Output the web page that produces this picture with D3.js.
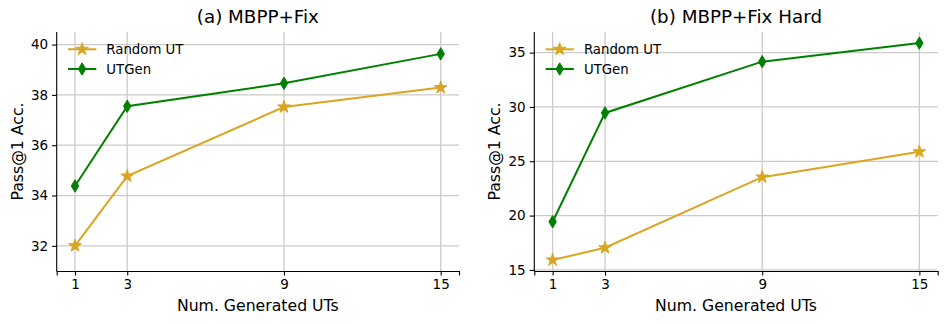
<!DOCTYPE html>
<head>
    <meta charset="utf-8">
    <title>Pass@1 vs generated UTs</title>
    <script src="https://d3js.org/d3.v7.min.js"></script>
    <style>
        body { margin: 0; background: #fff; }
        text { font-family: "DejaVu Sans", sans-serif; fill: #000; }
    </style>
</head>
<body>
    <div id="container"></div>
    <script>
        //----------------------------DATA------------------------------//
        const numUTs = [1, 3, 9, 15];
        const randomFix = [32.0, 34.77, 37.52, 38.29];
        const utgenFix = [34.38, 37.55, 38.46, 39.63];
        const randomHard = [15.91, 17.04, 23.54, 25.87];
        const utgenHard = [19.43, 29.45, 34.17, 35.88];
        const yTicksFix = [32, 34, 36, 38, 40];
        const yTicksHard = [15, 20, 25, 30, 35];
        const seriesNames = ["Random UT", "UTGen"];

        const colors = { "Random UT": "#DAA520", "UTGen": "#008000" };

        const panels = [
            { title: "(a) MBPP+Fix", left: 56.7, right: 459, yDomain: [31, 40.5], yTicks: yTicksFix,
              series: [randomFix, utgenFix] },
            { title: "(b) MBPP+Fix Hard", left: 534.3, right: 937.7, yDomain: [14.9, 36.9], yTicks: yTicksHard,
              series: [randomHard, utgenHard] }
        ];
        const plotTop = 32, plotBottom = 271;

        const svg = d3.select("#container").append("svg")
            .attr("width", 947).attr("height", 324);

        const starPath = d3.symbol().type(d3.symbolStar).size(50)();
        const diamondPath = "M0,-6.2L3.7,0L0,6.2L-3.7,0Z";

        function marker(sel, name) {
            sel.append("path")
                .attr("d", name === "UTGen" ? diamondPath : starPath)
                .attr("fill", colors[name])
                .attr("stroke", colors[name])
                .attr("stroke-width", 1);
        }

        panels.forEach(function (p) {
            const xScale = d3.scaleLinear().domain([0.3, 15.7]).range([p.left, p.right]);
            const yScale = d3.scaleLinear().domain(p.yDomain).range([plotBottom, plotTop]);
            const g = svg.append("g");

            //--------------------------GRID----------------------------//
            g.append("g").selectAll("line").data(numUTs).enter().append("line")
                .attr("x1", d => xScale(d)).attr("x2", d => xScale(d))
                .attr("y1", plotTop).attr("y2", plotBottom)
                .attr("stroke", "#cbcbcb").attr("stroke-width", 1.3);
            g.append("g").selectAll("line").data(p.yTicks).enter().append("line")
                .attr("x1", p.left).attr("x2", p.right)
                .attr("y1", d => yScale(d)).attr("y2", d => yScale(d))
                .attr("stroke", "#cbcbcb").attr("stroke-width", 1.3);

            //--------------------------AXES----------------------------//
            const xAxis = g.append("g")
                .attr("transform", "translate(0," + plotBottom + ")")
                .call(d3.axisBottom(xScale).tickValues(numUTs).tickSizeOuter(0).tickSize(4.6).tickPadding(4));
            const yAxis = g.append("g")
                .attr("transform", "translate(" + p.left + ",0)")
                .call(d3.axisLeft(yScale).tickValues(p.yTicks).tickSizeOuter(0).tickSize(4.6).tickPadding(4));
            [xAxis, yAxis].forEach(function (a) {
                a.select(".domain").attr("stroke", "#000").attr("stroke-width", 1.1);
                a.selectAll(".tick line").attr("stroke", "#000").attr("stroke-width", 1.1);
                a.selectAll(".tick text").style("font-size", "13.5px").attr("fill", "#000")
                    .style("font-family", "DejaVu Sans");
            });
            yAxis.select(".domain").attr("d", "M0," + plotTop + "V" + (plotBottom + 0.5));

            //--------------------------LINES---------------------------//
            const line = d3.line()
                .x((d, i) => xScale(numUTs[i]))
                .y(d => yScale(d));

            p.series.forEach(function (vals, k) {
                const name = seriesNames[k];
                g.append("path")
                    .attr("d", line(vals))
                    .attr("fill", "none")
                    .attr("stroke", colors[name])
                    .attr("stroke-width", 2);
                g.append("g").selectAll("g").data(vals).enter().append("g")
                    .attr("transform", (d, i) => "translate(" + xScale(numUTs[i]) + "," + yScale(d) + ")")
                    .call(marker, name);
            });

            //--------------------------LEGEND--------------------------//
            const legend = g.selectAll(".legend").data(seriesNames).enter().append("g")
                .attr("transform", (d, i) => "translate(" + p.left + "," + (plotTop + 17.3 + i * 19.7) + ")");
            legend.append("line")
                .attr("x1", 11.3).attr("x2", 39.6).attr("y1", 0).attr("y2", 0)
                .attr("stroke", d => colors[d]).attr("stroke-width", 2);
            legend.append("g").attr("transform", "translate(25.4,0)")
                .each(function (d) { marker(d3.select(this), d); });
            legend.append("text")
                .attr("x", 49.6).attr("dy", "0.35em")
                .style("font-size", "13.3px")
                .text(d => d);

            //--------------------------LABELS--------------------------//
            g.append("text")
                .attr("x", (p.left + p.right) / 2).attr("y", 23)
                .attr("text-anchor", "middle")
                .style("font-size", "18.3px")
                .text(p.title);
            g.append("text")
                .attr("x", (p.left + p.right) / 2).attr("y", 311)
                .attr("text-anchor", "middle")
                .style("font-size", "15.7px")
                .text("Num. Generated UTs");
            g.append("text")
                .attr("transform", "translate(" + (p.left - 34) + "," + ((plotTop + plotBottom) / 2) + ") rotate(-90)")
                .attr("text-anchor", "middle")
                .style("font-size", "15.7px")
                .text("Pass@1 Acc.");
        });
    </script>
</body>
